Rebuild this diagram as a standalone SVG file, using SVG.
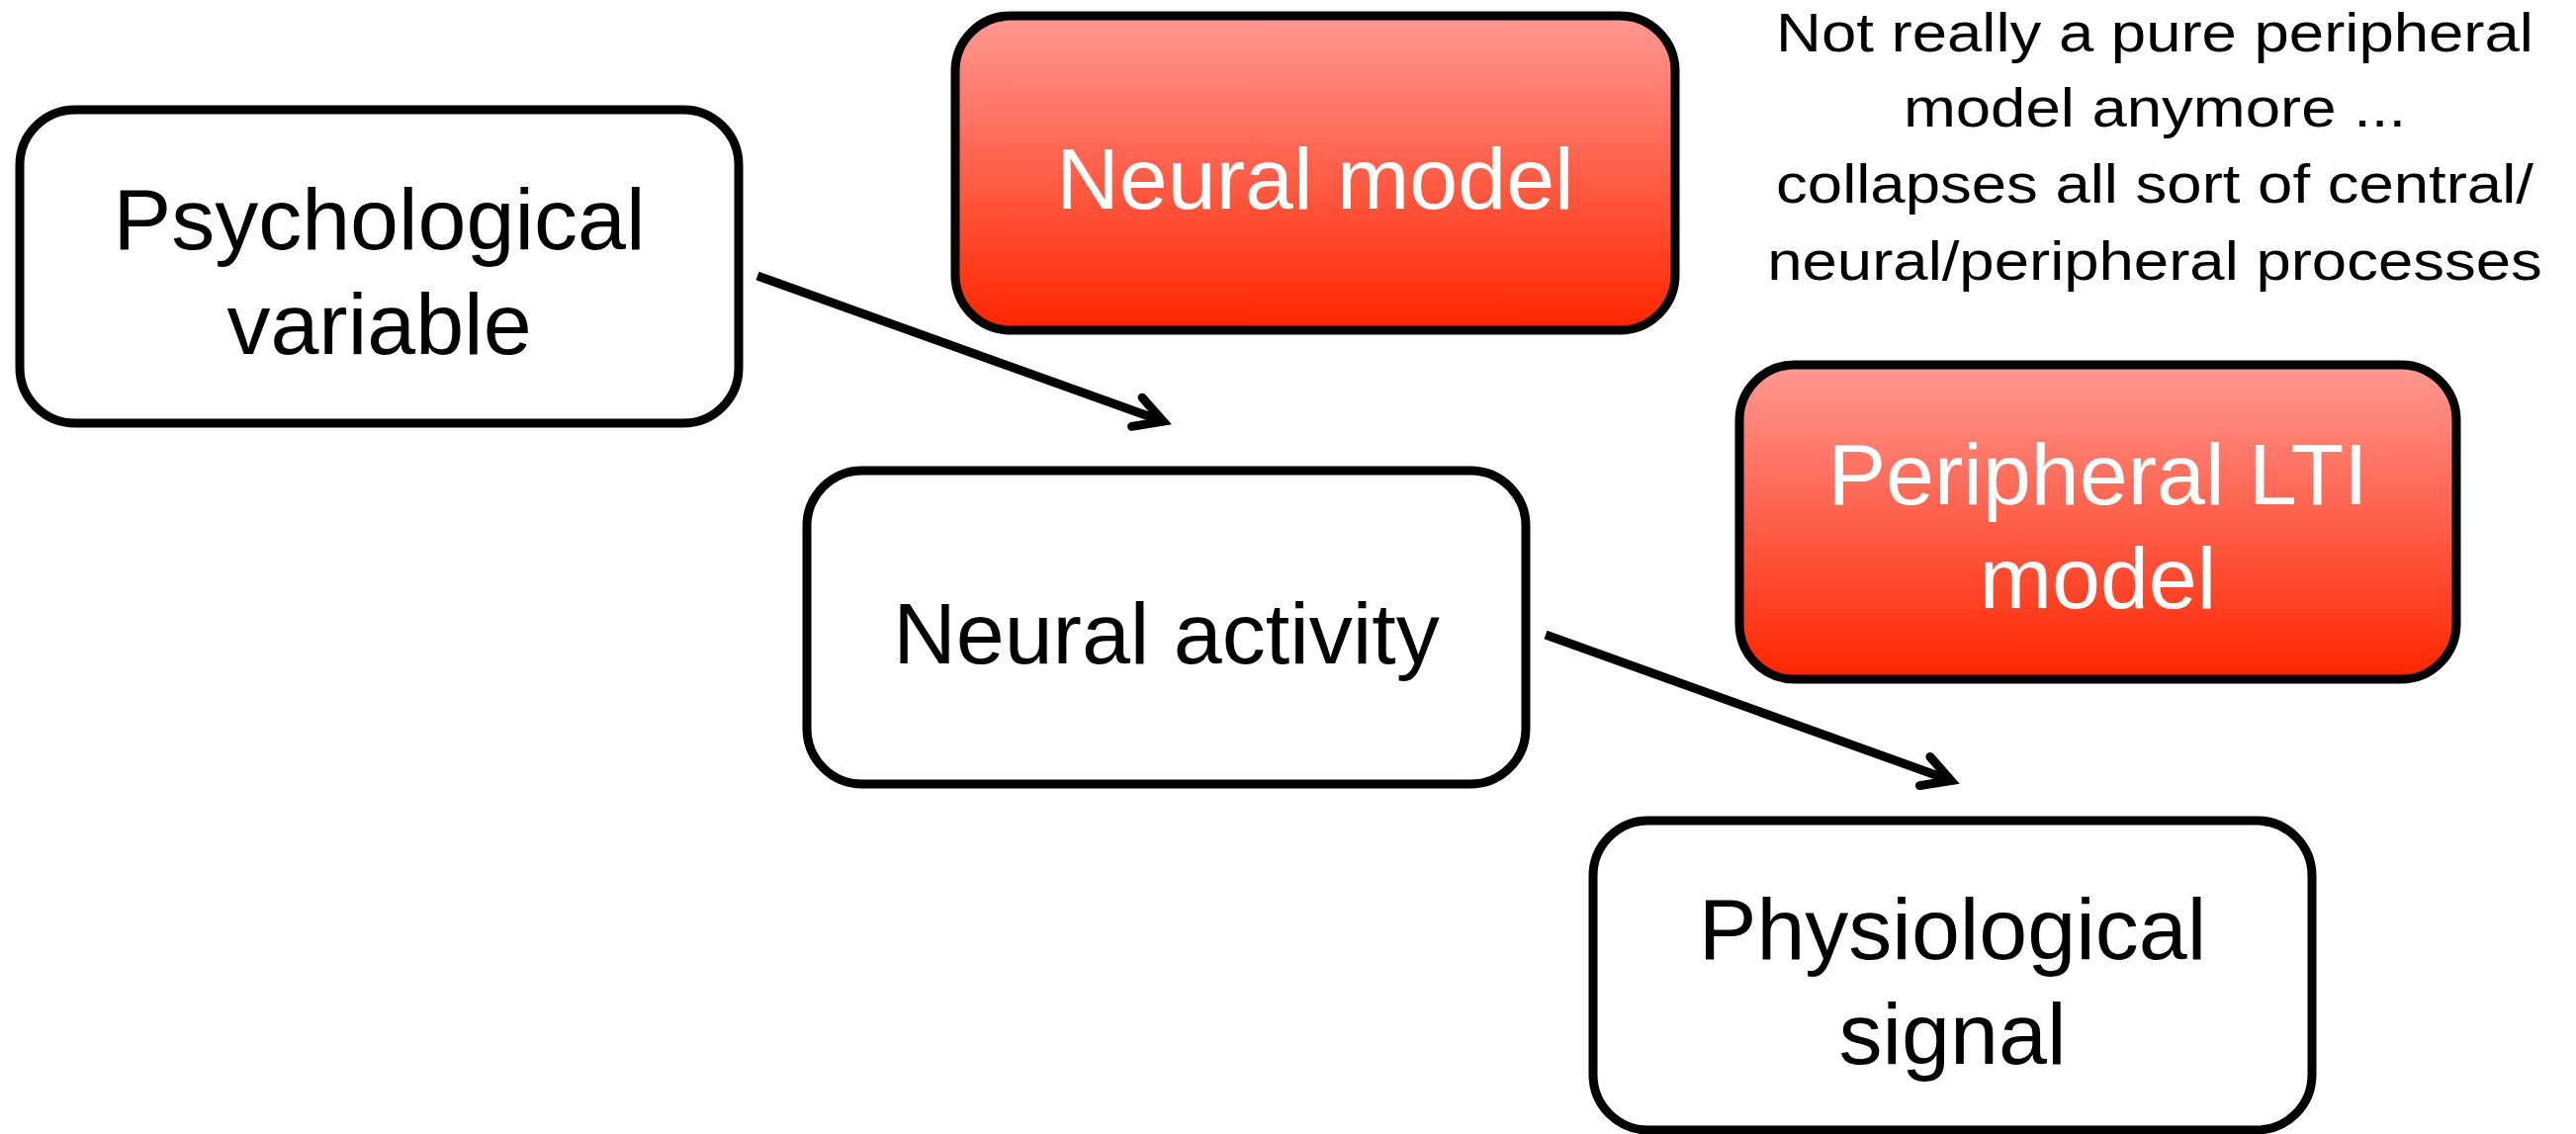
<svg xmlns="http://www.w3.org/2000/svg" width="2605" height="1147" viewBox="0 0 2605 1147">
  <defs>
    <linearGradient id="redGrad" x1="0" y1="0" x2="0" y2="1">
      <stop offset="0" stop-color="#FF9892"/>
      <stop offset="1" stop-color="#FF2500"/>
    </linearGradient>
    <marker id="arrowHead" markerUnits="userSpaceOnUse" orient="auto" markerWidth="60" markerHeight="60" refX="0" refY="0" viewBox="-40 -30 60 60" overflow="visible">
      <path d="M -28,-15.5 L 0,0 L -28,15.5" fill="none" stroke="#000" stroke-width="9" stroke-linejoin="miter" stroke-miterlimit="10" stroke-linecap="round"/>
    </marker>
    <style>
      .box { fill: #FFFFFF; stroke: #000000; stroke-width: 9; }
      .red { fill: url(#redGrad); stroke: #000000; stroke-width: 9; }
      .lbl { font-family: "Liberation Sans", Arial, Helvetica, sans-serif; font-size: 88px; text-anchor: middle; fill: #000000; }
      .lblw { font-family: "Liberation Sans", Arial, Helvetica, sans-serif; font-size: 88px; text-anchor: middle; fill: #FFFFFF; }
      .note { font-family: "Liberation Sans", Arial, Helvetica, sans-serif; font-size: 56px; text-anchor: middle; fill: #000000; }
      .conn { fill: none; stroke: #000000; stroke-width: 9; stroke-linecap: butt; marker-end: url(#arrowHead); }
    </style>
  </defs>
  <rect x="0" y="0" width="2605" height="1147" fill="#FFFFFF"/>

  <g id="connectors">
    <line class="conn" x1="766" y1="279" x2="1176.2" y2="426.2"/>
    <line class="conn" x1="1563" y1="642" x2="1973" y2="789.5"/>
  </g>

  <g id="node-psychological-variable">
    <rect class="box" x="20" y="111" width="727" height="317" rx="56" ry="56"/>
    <text class="lbl" x="383.5" y="252">Psychological</text>
    <text class="lbl" x="383.5" y="357.5">variable</text>
  </g>

  <g id="node-neural-model">
    <rect class="red" x="966" y="16" width="728" height="318" rx="56" ry="56"/>
    <text class="lblw" x="1330" y="210.7">Neural model</text>
  </g>

  <g id="node-neural-activity">
    <rect class="box" x="816" y="476" width="727" height="317" rx="56" ry="56"/>
    <text class="lbl" x="1179.5" y="670.7">Neural activity</text>
  </g>

  <g id="node-peripheral-lti-model">
    <rect class="red" x="1759" y="369" width="725" height="318" rx="56" ry="56"/>
    <text class="lblw" x="2121.5" y="510">Peripheral LTI</text>
    <text class="lblw" x="2121.5" y="615">model</text>
  </g>

  <g id="node-physiological-signal">
    <rect class="box" x="1611" y="830" width="727" height="313" rx="56" ry="56"/>
    <text class="lbl" x="1974.5" y="970">Physiological</text>
    <text class="lbl" x="1974.5" y="1076">signal</text>
  </g>

  <g id="note" transform="translate(2179,0) scale(1.134,1)">
    <text class="note" x="0" y="51.7">Not really a pure peripheral</text>
    <text class="note" x="0" y="128.3">model anymore ...</text>
    <text class="note" x="0" y="205">collapses all sort of central/</text>
    <text class="note" x="0" y="283.3">neural/peripheral processes</text>
  </g>
</svg>
